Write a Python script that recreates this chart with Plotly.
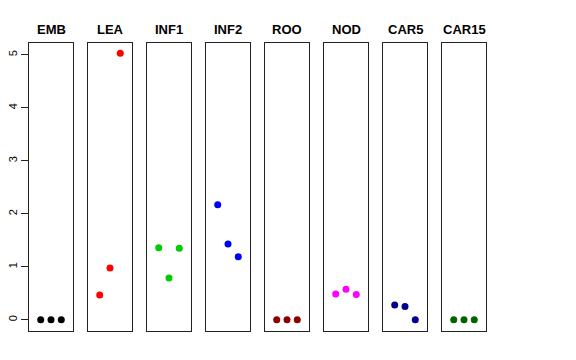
import plotly.graph_objects as go

W, H = 576, 360
OFF = 8  # page body margin offset
panels = ["EMB", "LEA", "INF1", "INF2", "ROO", "NOD", "CAR5", "CAR15"]
colors = ["#000000", "#FF0000", "#00CD00", "#0000FF", "#8B0000", "#FF00FF", "#00008B", "#006400"]
x_pos = [1, 2, 3]
values = {
    "EMB": [0.0, 0.0, 0.0],
    "LEA": [0.47, 0.98, 5.03],
    "INF1": [1.36, 0.79, 1.35],
    "INF2": [2.17, 1.43, 1.19],
    "ROO": [0.0, 0.0, 0.0],
    "NOD": [0.49, 0.58, 0.48],
    "CAR5": [0.28, 0.25, 0.0],
    "CAR15": [0.0, 0.0, 0.0],
}
y_ticks = [0, 1, 2, 3, 4, 5]

fig = go.Figure()
left0, pitch, pw = 29 - OFF, 59, 44
ytop, ybot = 42.7 - OFF, 331 - OFF
ydom = [1 - ybot / H, 1 - ytop / H]

for i, (name, col) in enumerate(zip(panels, colors)):
    k = "" if i == 0 else str(i + 1)
    x0 = left0 + i * pitch
    fig.add_trace(go.Scatter(
        x=x_pos, y=values[name], mode="markers",
        marker=dict(color=col, size=7),
        xaxis="x" + k, yaxis="y" + k, showlegend=False, hoverinfo="skip"))
    fig.layout["xaxis" + k] = dict(
        domain=[x0 / W, (x0 + pw) / W], range=[2 - 2.14, 2 + 2.14],
        showgrid=False, zeroline=False, showticklabels=False, ticks="",
        showline=True, mirror=True, linecolor="#222", linewidth=1,
        anchor="y" + k, automargin=False)
    ya = dict(
        domain=ydom, range=[-0.21, 5.23], showgrid=False, zeroline=False,
        showline=True, mirror=True, linecolor="#222", linewidth=1,
        anchor="x" + k, automargin=False)
    if i == 0:
        ya.update(tickvals=y_ticks, ticktext=[str(t) for t in y_ticks],
                  ticks="outside", ticklen=7, tickcolor="#222",
                  tickangle=-90, tickfont=dict(size=11, color="#000",
                                               family="Liberation Sans, Arial"))
    else:
        ya.update(showticklabels=False, ticks="")
    fig.layout["yaxis" + k] = ya
    fig.add_annotation(x=(x0 + pw / 2) / W, y=1 - (29 - OFF) / H, xref="paper", yref="paper",
                       text="<b>" + name + "</b>", showarrow=False,
                       xanchor="center", yanchor="middle",
                       font=dict(size=13, color="#000", family="Liberation Sans, Arial"))

fig.update_layout(width=W, height=H, margin=dict(l=0, r=0, t=0, b=0, autoexpand=False),
                  paper_bgcolor="white", plot_bgcolor="white")
fig.write_html("out.html")
